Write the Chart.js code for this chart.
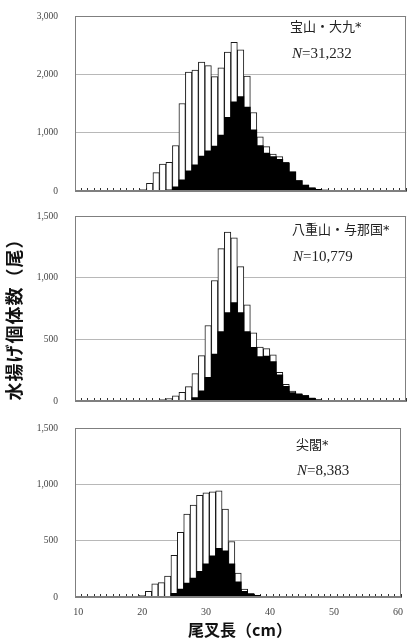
<!DOCTYPE html>
<html>
<head>
<meta charset="utf-8">
<script src="https://cdn.jsdelivr.net/npm/chart.js@4.4.1/dist/chart.umd.min.js"></script>
<style>
  body { margin: 0; background: #fff; }
  #page { position: relative; width: 415px; height: 638px; overflow: hidden; background: #fff; }
  .panel { position: absolute; left: 0; }
  .note { position: absolute; font-family: "Noto Sans CJK JP", sans-serif; font-size: 13px; line-height: 16px; color: #222; white-space: nowrap; }
  .ast { font-family: "DejaVu Sans", sans-serif; font-size: 13px; }
  .n { font-family: "Liberation Serif", serif; font-size: 15px; line-height: 18px; color: #222; }
  .ytitle { position: absolute; width: 220px; text-align: center; font-family: "Noto Sans CJK JP", sans-serif; font-weight: bold; font-size: 18px; line-height: 20px; letter-spacing: 1px; transform: rotate(-90deg); color: #111; }
  .xtitle { position: absolute; width: 200px; text-align: center; font-family: "Noto Sans CJK JP", sans-serif; font-weight: bold; font-size: 16px; line-height: 16px; color: #111; }
</style>
</head>
<body>
<div id="page">
  <canvas id="c1" class="panel" style="top:0" width="415" height="200"></canvas>
  <canvas id="c2" class="panel" style="top:200px" width="415" height="210"></canvas>
  <canvas id="c3" class="panel" style="top:410px" width="415" height="228"></canvas>

  <div class="note" style="left:290px;top:18px">宝山・大九<span class="ast">*</span></div>
  <div class="n note" style="left:292px;top:44px"><i>N</i>=31,232</div>
  <div class="note" style="left:292px;top:221px">八重山・与那国<span class="ast">*</span></div>
  <div class="n note" style="left:293px;top:247px"><i>N</i>=10,779</div>
  <div class="note" style="left:296px;top:436px">尖閣<span class="ast">*</span></div>
  <div class="n note" style="left:297px;top:461px"><i>N</i>=8,383</div>

  <div class="ytitle" style="left:-97px;top:305px">水揚げ個体数（尾）</div>
  <div class="xtitle" style="left:140px;top:621px">尾叉長（cm）</div>
</div>

<script>
// fork length classes (cm)
const lengths = [10,11,12,13,14,15,16,17,18,19,20,21,22,23,24,25,26,27,28,29,30,
  31,32,33,34,35,36,37,38,39,40,41,42,43,44,45,46,47,48,49,50,
  51,52,53,54,55,56,57,58,59,60];
const xTickLabels = [10, 20, 30, 40, 50, 60];

// 宝山・大九
const hozanTotal = [0,0,0,0,0,0,0,0,0,3,25,130,315,460,490,780,1500,2040,2075,2210,2150,
  1960,2110,2380,2550,2420,1970,1345,930,760,635,590,490,330,180,100,55,30,15,8,5,
  8,10,6,3,0,0,0,0,0,0];
const hozanBlack = [0,0,0,0,0,0,0,0,0,0,0,0,0,5,20,72,190,345,450,600,690,
  770,960,1265,1530,1620,1440,1050,780,650,590,545,475,330,180,100,55,28,14,7,4,
  6,8,5,2,0,0,0,0,0,0];

// 八重山・与那国
const yaeyamaTotal = [0,0,0,0,0,0,0,0,0,0,2,4,6,12,20,42,70,116,222,368,612,
  977,1235,1370,1322,1090,780,552,437,425,375,232,135,80,60,45,25,12,6,3,2,
  0,0,0,0,0,0,0,0,0,0];
const yaeyamaBlack = [0,0,0,0,0,0,0,0,0,0,0,0,0,0,0,0,0,5,28,82,192,
  380,562,716,797,716,562,435,360,365,320,212,118,68,55,40,22,10,5,2,1,
  0,0,0,0,0,0,0,0,0,0];

// 尖閣
const senkakuTotal = [0,0,0,0,0,0,0,3,3,5,15,50,118,128,186,370,573,735,816,902,925,
  934,943,780,493,212,70,30,15,5,3,0,0,0,0,0,0,0,0,0,0,
  0,0,0,0,0,0,0,0,0,0];
const senkakuBlack = [0,0,0,0,0,0,0,0,0,0,0,0,0,0,3,33,70,123,168,228,295,
  365,433,410,295,135,50,28,14,4,2,0,0,0,0,0,0,0,0,0,0,
  0,0,0,0,0,0,0,0,0,0];

// plot frame
const framePlugin = {
  id: 'frame',
  afterDraw(chart) {
    const a = chart.chartArea;
    const ctx = chart.ctx;
    ctx.save();
    ctx.strokeStyle = '#7f7f7f';
    ctx.lineWidth = 1;
    ctx.strokeRect(Math.round(a.left) + 0.5, Math.round(a.top) + 0.5,
      Math.round(a.right - a.left) - 1, Math.round(a.bottom - a.top) - 1);
    ctx.restore();
  }
};

function makePanel(id, total, black, yMax, yStep, showLabels, padTop, xHeight) {
  const ctx = document.getElementById(id).getContext('2d');
  return new Chart(ctx, {
    type: 'bar',
    data: {
      labels: lengths,
      datasets: [
        { data: black, backgroundColor: '#000', borderWidth: 0,
          grouped: false, barPercentage: 1, categoryPercentage: 1 },
        { data: total, backgroundColor: '#fff', borderColor: '#1a1a1a', borderWidth: 1,
          grouped: false, barPercentage: 1, categoryPercentage: 1 }
      ]
    },
    options: {
      responsive: false,
      animation: false,
      layout: { padding: { top: padTop, right: 6, left: 0, bottom: 0 } },
      plugins: { legend: { display: false }, tooltip: { enabled: false } },
      scales: {
        x: {
          offset: true,
          grid: { offset: true, drawOnChartArea: false, tickLength: -3, color: '#333', lineWidth: 1 },
          border: { color: '#7f7f7f' },
          ticks: {
            autoSkip: false, maxRotation: 0, padding: 12,
            color: '#444', font: { family: 'Liberation Serif', size: 10 },
            callback: (v, i) => (showLabels && xTickLabels.includes(lengths[i])) ? String(lengths[i]) : ''
          },
          afterFit: s => { s.height = xHeight; }
        },
        y: {
          min: 0, max: yMax,
          // invisible tick marks keep the labels away from the axis
          grid: { color: '#b8b8b8', tickLength: 17, tickColor: 'rgba(0,0,0,0)', lineWidth: 1 },
          border: { display: false },
          ticks: {
            stepSize: yStep, padding: 0,
            color: '#444', font: { family: 'Liberation Serif', size: 9.5 },
            callback: v => v.toLocaleString('en-US')
          },
          afterFit: s => { s.width = 75; }
        }
      }
    },
    plugins: [framePlugin]
  });
}

makePanel('c1', hozanTotal, hozanBlack, 3000, 1000, false, 16, 9);
makePanel('c2', yaeyamaTotal, yaeyamaBlack, 1500, 500, false, 16, 9);
makePanel('c3', senkakuTotal, senkakuBlack, 1500, 500, true, 18, 41);
</script>
</body>
</html>
